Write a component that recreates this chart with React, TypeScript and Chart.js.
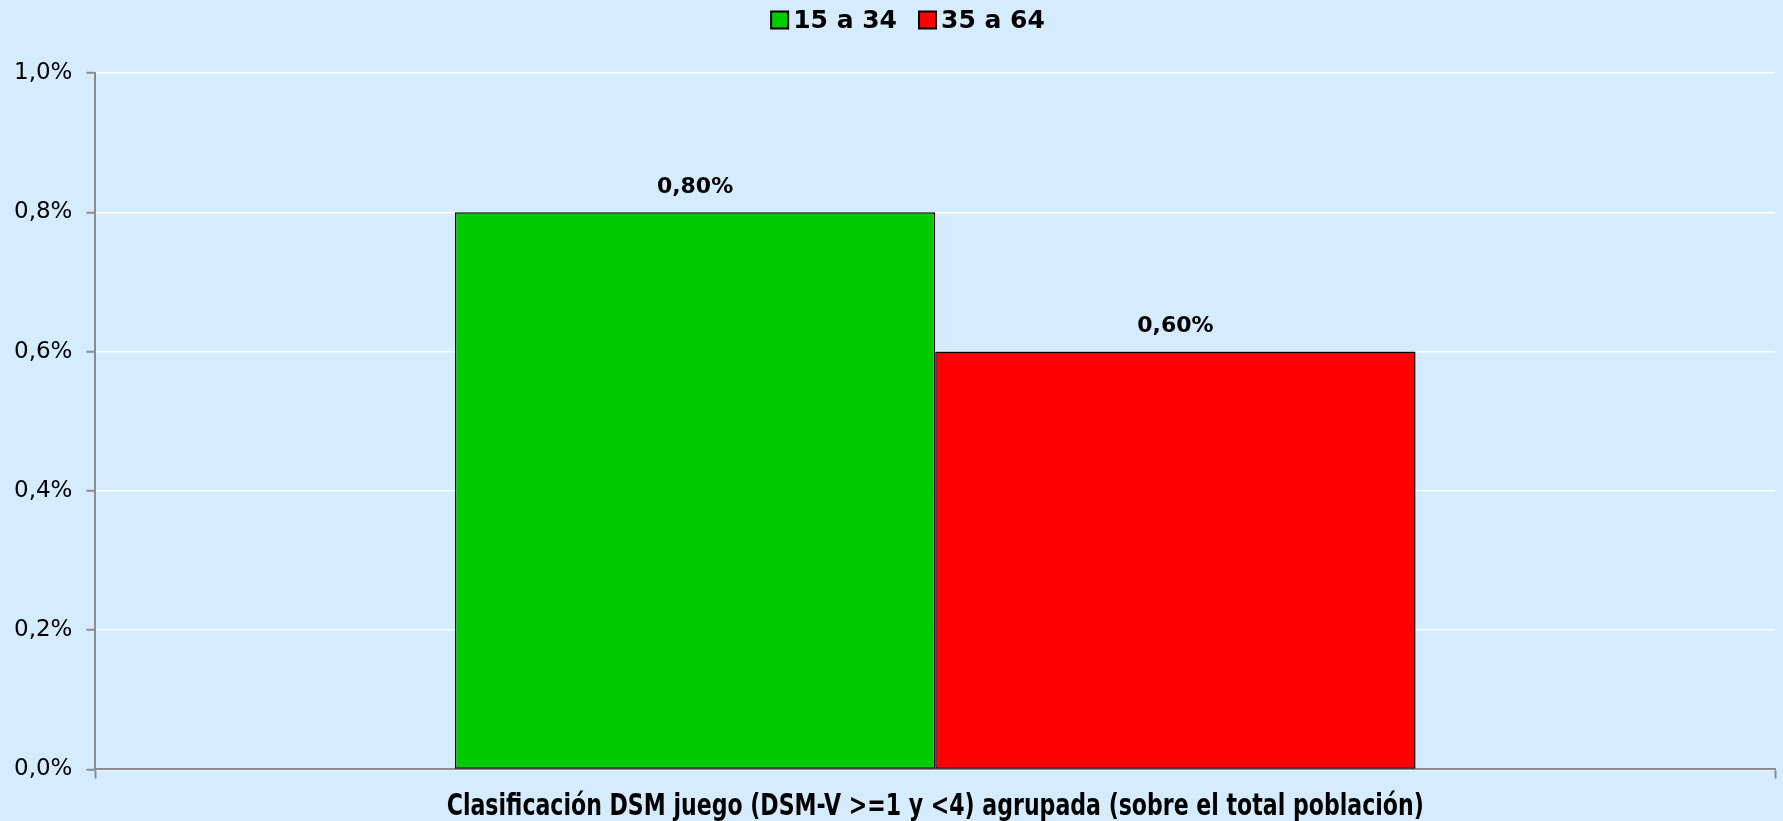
import React, { useEffect, useRef } from "react";
import { Chart, registerables } from "chart.js";
Chart.register(...registerables);

const categories = ["Clasificación DSM juego (DSM-V >=1 y <4) agrupada (sobre el total población)"];
const seriesNames = ["15 a 34", "35 a 64"];
const values1534 = [0.8];
const values3564 = [0.6];
const colors = ["#00CC00", "#FF0000"];
const yTicks = [0, 0.2, 0.4, 0.6, 0.8, 1.0];

const fmtTick = (v: number) => v.toFixed(1).replace(".", ",") + "%";
const fmtLabel = (v: number) => v.toFixed(2).replace(".", ",") + "%";

const LEGEND_FONT = "bold 25px 'DejaVu Sans', sans-serif";
const XLABEL_FONT = "bold 31px 'DejaVu Sans Condensed', 'DejaVu Sans', sans-serif";

const drawPlugin = {
  id: "customDraw",
  afterDatasetsDraw(chart: any) {
    const ctx = chart.ctx;
    ctx.save();
    // bar value labels
    ctx.font = "bold 22px 'DejaVu Sans', sans-serif";
    ctx.fillStyle = "#000";
    ctx.textAlign = "center";
    ctx.textBaseline = "middle";
    chart.data.datasets.forEach((ds: any, i: number) => {
      const meta = chart.getDatasetMeta(i);
      meta.data.forEach((bar: any, j: number) => {
        ctx.fillText(fmtLabel(ds.data[j]), bar.x, bar.y - 25);
      });
    });

    // legend
    ctx.font = LEGEND_FONT;
    ctx.textAlign = "left";
    const box = 17;
    const gapBoxText = 5;
    const gapItems = 22;
    const widths = seriesNames.map((n) => ctx.measureText(n).width);
    let total = 0;
    widths.forEach((w, i) => {
      total += box + gapBoxText + w + (i < widths.length - 1 ? gapItems : 0);
    });
    let x = 908 - total / 2;
    const cy = 20;
    seriesNames.forEach((n, i) => {
      ctx.fillStyle = colors[i];
      ctx.fillRect(x, cy - box / 2, box, box);
      ctx.lineWidth = 2;
      ctx.strokeStyle = "#000";
      ctx.strokeRect(x, cy - box / 2, box, box);
      ctx.fillStyle = "#000";
      ctx.fillText(n, x + box + gapBoxText, cy + 1);
      x += box + gapBoxText + widths[i] + gapItems;
    });

    // x category label, condensed
    const xs = chart.scales.x;
    const label = categories[0];
    ctx.font = XLABEL_FONT;
    const w = ctx.measureText(label).width;
    const targetW = 977;
    const cx = xs.getPixelForValue(0);
    ctx.translate(cx, 807);
    ctx.scale(targetW / w, 1);
    ctx.textAlign = "center";
    ctx.fillText(label, 0, 0);
    ctx.restore();
  },
};

export default function App() {
  const ref = useRef<HTMLCanvasElement>(null);
  useEffect(() => {
    document.body.style.margin = "0";
    document.body.style.background = "#D5EBFE";
    const chart = new Chart(ref.current!, {
      type: "bar",
      data: {
        labels: categories,
        datasets: [
          { label: seriesNames[0], data: values1534, backgroundColor: colors[0], borderColor: "#000", borderWidth: 1.5, borderSkipped: false },
          { label: seriesNames[1], data: values3564, backgroundColor: colors[1], borderColor: "#000", borderWidth: 1.5, borderSkipped: false },
        ],
      },
      options: {
        animation: false,
        responsive: false,
        maintainAspectRatio: false,
        layout: { padding: { left: 0, right: 8, top: 73, bottom: 1 } },
        datasets: { bar: { categoryPercentage: 0.572, barPercentage: 1.0 } },
        plugins: {
          legend: { display: false },
          tooltip: { enabled: false },
        },
        scales: {
          x: {
            offset: true,
            grid: { display: true, drawOnChartArea: false, offset: true, tickLength: 9, tickColor: "#8C8C8C", tickWidth: 2 },
            border: { color: "#8C8C8C", width: 2 },
            ticks: {
              color: "rgba(0,0,0,0)",
              padding: 4,
              font: { family: "'DejaVu Sans Condensed', sans-serif", size: 28, weight: "bold" },
              callback: () => "X",
            },
          },
          y: {
            min: 0,
            max: 1.0,
            afterBuildTicks: (axis: any) => {
              axis.ticks = yTicks.map((v) => ({ value: v }));
            },
            grid: { color: "#FFFFFF", lineWidth: 1.5, tickColor: "#8C8C8C", tickLength: 9, tickWidth: 2 },
            border: { color: "#8C8C8C", width: 2 },
            ticks: {
              color: "#000",
              padding: 14,
              font: { family: "'DejaVu Sans', sans-serif", size: 23 },
              callback: (v: any) => fmtTick(Number(v)),
            },
          },
        },
      },
      plugins: [drawPlugin],
    } as any);
    return () => chart.destroy();
  }, []);
  return (
    <div style={{ width: 1783, height: 821, background: "#D5EBFE" }}>
      <canvas ref={ref} width={1783} height={821} style={{ display: "block" }} />
    </div>
  );
}
